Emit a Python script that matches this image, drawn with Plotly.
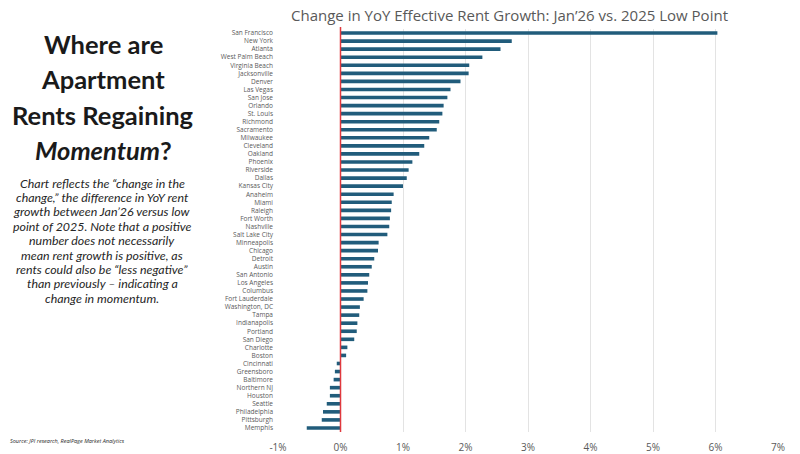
import plotly.graph_objects as go

cities = ["San Francisco", "New York", "Atlanta", "West Palm Beach", "Virginia Beach",
          "Jacksonville", "Denver", "Las Vegas", "San Jose", "Orlando", "St. Louis",
          "Richmond", "Sacramento", "Milwaukee", "Cleveland", "Oakland", "Phoenix",
          "Riverside", "Dallas", "Kansas City", "Anaheim", "Miami", "Raleigh",
          "Fort Worth", "Nashville", "Salt Lake City", "Minneapolis", "Chicago",
          "Detroit", "Austin", "San Antonio", "Los Angeles", "Columbus",
          "Fort Lauderdale", "Washington, DC", "Tampa", "Indianapolis", "Portland",
          "San Diego", "Charlotte", "Boston", "Cincinnati", "Greensboro", "Baltimore",
          "Northern NJ", "Houston", "Seattle", "Philadelphia", "Pittsburgh", "Memphis"]

change_pct = [6.03, 2.74, 2.56, 2.27, 2.06, 2.05, 1.92, 1.76, 1.71, 1.65, 1.63,
              1.58, 1.54, 1.42, 1.34, 1.26, 1.15, 1.09, 1.06, 1.00, 0.85, 0.82, 0.81,
              0.79, 0.78, 0.75, 0.61, 0.60, 0.54, 0.50, 0.46, 0.44, 0.43,
              0.37, 0.31, 0.30, 0.27, 0.26, 0.22, 0.11, 0.09, -0.06, -0.09, -0.11,
              -0.17, -0.17, -0.22, -0.28, -0.30, -0.54]

x_ticks = [-1, 0, 1, 2, 3, 4, 5, 6, 7]
x_tick_labels = ["-1%", "0%", "1%", "2%", "3%", "4%", "5%", "6%", "7%"]

title_lines = ["Where are", "Apartment", "Rents Regaining", "<i>Momentum</i>?"]

note_lines = [
    "Chart reflects the \u201cchange in the",
    "change,\u201d the difference in YoY rent",
    "growth between Jan\u201926 versus low",
    "point of 2025. Note that a positive",
    "number does not necessarily",
    "mean rent growth is positive, as",
    "rents could also be \u201cless negative\u201d",
    "than previously \u2013 indicating a",
    "change in momentum.",
]

BAR = "#215c7b"
GREY = "#595959"
W, H = 800, 454

fig = go.Figure()
fig.add_trace(go.Bar(
    y=cities, x=change_pct, orientation="h",
    marker=dict(color=BAR, line=dict(width=0)),
    width=0.45, hoverinfo="x+y",
))

fig.add_shape(type="line", xref="x", yref="paper", x0=0, x1=0,
              y0=1 - 432 / H, y1=1 - 27 / H,
              line=dict(color="#e0393e", width=1.5), layer="above")

fig.update_layout(
    width=W, height=H,
    margin=dict(l=0, r=0, t=0, b=0, autoexpand=False),
    paper_bgcolor="white", plot_bgcolor="white",
    showlegend=False,
    xaxis=dict(
        domain=[278 / W, 778 / W],
        range=[-1, 7], tickvals=x_ticks, ticktext=x_tick_labels,
        showgrid=True, gridcolor="#e3e3e3", gridwidth=1,
        zeroline=False, showline=False, automargin=False,
        tickfont=dict(family="Open Sans, Arial", size=10, color=GREY),
        ticks="", ticklabelstandoff=8,
    ),
    yaxis=dict(
        domain=[1 - 432 / H, 1 - 29 / H],
        categoryorder="array", categoryarray=cities[::-1],
        range=[-0.5, len(cities) - 0.5],
        showgrid=False, zeroline=False, showline=False, automargin=False,
        tickfont=dict(family="Open Sans, Arial", size=6.5, color=GREY),
        ticks="", ticklabelstandoff=4,
    ),
    font=dict(family="Open Sans, Arial", color=GREY),
)

fig.add_annotation(
    text="Change in YoY Effective Rent Growth: Jan\u201926 vs. 2025 Low Point",
    xref="paper", yref="paper", x=509 / W, y=1 - 15 / H, xanchor="center", yanchor="middle",
    showarrow=False, font=dict(family="Open Sans, Arial", size=15, color=GREY),
)

for i, line in enumerate(title_lines):
    fig.add_annotation(
        text="<b>" + line + "</b>",
        xref="paper", yref="paper", x=103 / W, y=1 - (44 + i * 35.3) / H,
        xanchor="center", yanchor="middle", showarrow=False,
        font=dict(family="Lato, Open Sans, Arial", size=25.5, color="#1a1a1a"),
    )

for i, line in enumerate(note_lines):
    fig.add_annotation(
        text="<i>" + line + "</i>",
        xref="paper", yref="paper", x=102 / W, y=1 - (183 + i * 14.4) / H,
        xanchor="center", yanchor="middle", showarrow=False,
        font=dict(family="Lato, Open Sans, Arial", size=12.4, color="#262626"),
    )

fig.add_annotation(
    text="<i>Source: JPI research, RealPage Market Analytics</i>",
    xref="paper", yref="paper", x=8 / W, y=1 - 441 / H, xanchor="left", yanchor="middle",
    showarrow=False, font=dict(family="Open Sans, Arial", size=5.5, color="#262626"),
)

fig.write_html(
    "out.html",
    config={"displayModeBar": False},
    post_script="document.body.style.margin='0';document.body.style.padding='0';",
)
